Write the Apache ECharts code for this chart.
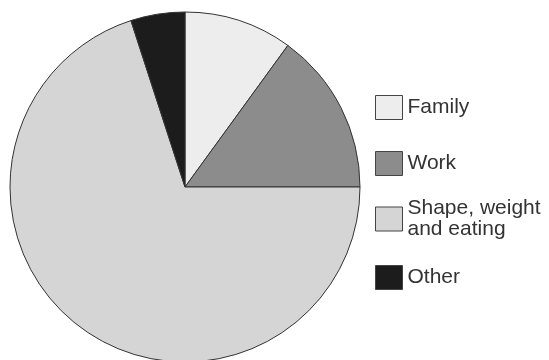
<!DOCTYPE html>
<html>
<head>
<meta charset="utf-8">
<script src="https://cdn.jsdelivr.net/npm/echarts@6/dist/echarts.min.js"></script>
<style>
  html, body { margin: 0; padding: 0; background: #fff; }
  #main { width: 549px; height: 360px; }
</style>
</head>
<body>
<div id="main"></div>
<script>
var categories = ['Family', 'Work', 'Shape, weight and eating', 'Other'];
var shares = [10, 15, 70, 5];
var colors = ['#ededed', '#8c8c8c', '#d5d5d5', '#1c1c1c'];

var myChart = echarts.init(document.getElementById('main'));

var pieData = categories.map(function (name, i) {
    return { name: name, value: shares[i], itemStyle: { color: colors[i] } };
});

// one legend per entry so the gaps can follow the picture
var legendCenters = [102, 158, 214, 272];
var legends = categories.map(function (name, i) {
    var multi = name.indexOf(' and ') > 0;
    return {
        data: [name],
        left: 370,
        top: multi ? legendCenters[i] - 31.5 : legendCenters[i] - 12,
        orient: 'vertical',
        icon: 'rect',
        itemWidth: 27,
        itemHeight: 24,
        itemGap: 0,
        selectedMode: false,
        itemStyle: { borderColor: '#444', borderWidth: 1 },
        formatter: function (n) {
            return n.replace(' and ', '\nand ');
        },
        textStyle: {
            fontFamily: 'Liberation Sans, Arial, sans-serif',
            fontSize: 21,
            color: '#333',
            lineHeight: 21,
            padding: multi ? [21, 0, 0, 0] : 0
        }
    };
});

var option = {
    animation: false,
    backgroundColor: '#fff',
    legend: legends,
    series: [
        {
            type: 'pie',
            center: [185, 187],
            radius: 175,
            startAngle: 90,
            clockwise: true,
            label: { show: false },
            labelLine: { show: false },
            itemStyle: { borderColor: '#333', borderWidth: 1 },
            emphasis: { disabled: true },
            data: pieData
        }
    ]
};

myChart.setOption(option);
</script>
</body>
</html>
